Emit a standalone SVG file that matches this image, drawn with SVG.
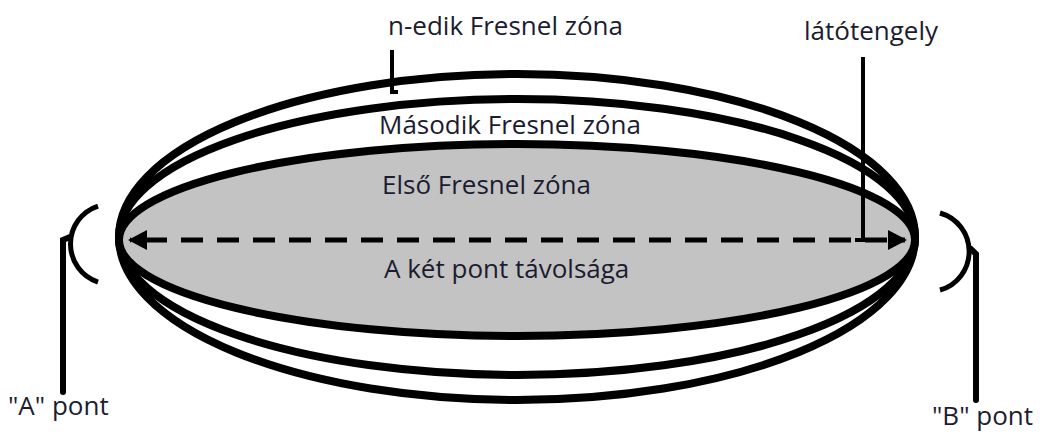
<svg xmlns="http://www.w3.org/2000/svg" width="1045" height="434" viewBox="0 0 1045 434">
<style>
.zone{fill:none;stroke:#000;stroke-width:8}
.first{fill:#c3c3c3;stroke:#000;stroke-width:8}
.lbl{font-family:"Open Sans","Liberation Sans",sans-serif;font-size:26px;fill:#1c1c30}
.ln{stroke:#000;fill:none}
</style>
<rect width="1045" height="434" fill="#fff"/>
<g id="zone-n"><ellipse class="zone" cx="517" cy="237" rx="398" ry="163"/></g>
<g id="zone-2"><ellipse class="zone" cx="517" cy="237" rx="398" ry="138"/></g>
<g id="zone-1"><ellipse class="first" cx="517" cy="240" rx="398" ry="96"/></g>
<g id="connectors">
<line class="ln" x1="130" y1="240" x2="905" y2="240" stroke-width="5" stroke-dasharray="22 14" stroke-dashoffset="-15"/>
<path d="M128,240 L147,230 L147,250 z" fill="#000"/>
<path d="M907,240 L888,230 L888,250 z" fill="#000"/>
<line class="ln" x1="863" y1="57" x2="863" y2="240" stroke-width="4"/>
<line class="ln" x1="855" y1="240" x2="871" y2="240" stroke-width="4"/>
<path class="ln" d="M392,50 L392,92 L398,92" stroke-width="4"/>
<path class="ln" d="M98,206 A40,40 0 0 0 98,282" stroke-width="5"/>
<path class="ln" d="M63,392 L63,240 L70,237" stroke-width="6" stroke-linecap="round"/>
<path class="ln" d="M940,213 A40,40 0 0 1 940,290" stroke-width="5"/>
<path class="ln" d="M976,400 L976,254 L971,249" stroke-width="6" stroke-linecap="round"/>
</g>
<g id="labels">
<text class="lbl" x="388" y="35">n-edik Fresnel zóna</text>
<text class="lbl" x="804" y="40">látótengely</text>
<text class="lbl" x="379" y="134">Második Fresnel zóna</text>
<text class="lbl" x="382" y="194">Első Fresnel zóna</text>
<text class="lbl" x="384" y="278">A két pont távolsága</text>
<text class="lbl" x="8" y="415">"A" pont</text>
<text class="lbl" x="932" y="425">"B" pont</text>
</g>
</svg>
